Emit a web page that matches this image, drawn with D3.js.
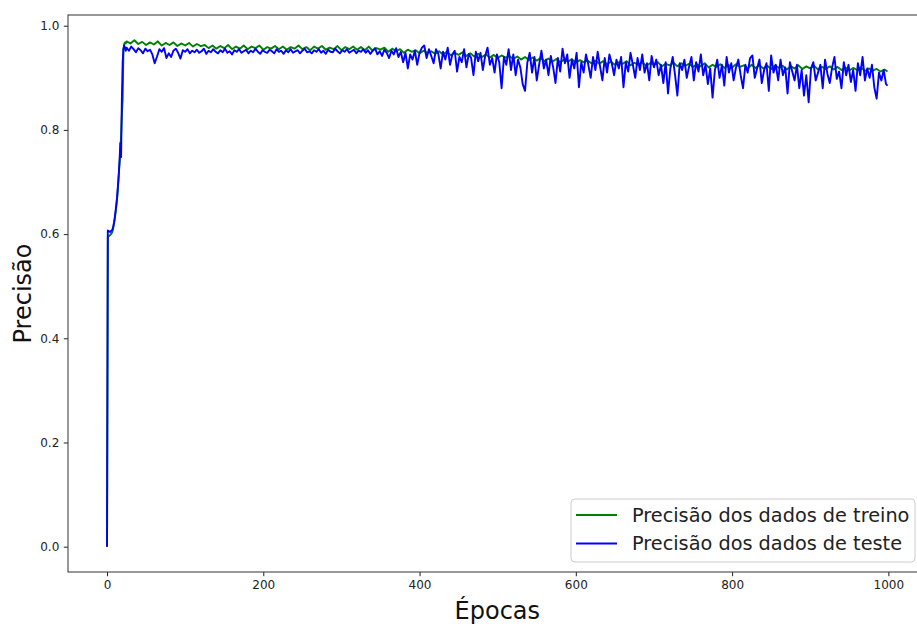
<!DOCTYPE html>
<html>
<head>
<meta charset="utf-8">
<script src="https://cdn.jsdelivr.net/npm/d3@7"></script>
<style>
  body { margin: 0; background: #fff; }
  text { font-family: "DejaVu Sans", sans-serif; }
</style>
</head>
<body>
<script>
// first epochs, one value per epoch
var earlyEpochs = [0,1,2,3,4,5,6,7,8,9,10,11,12,13,14,15,16,17,18,19,20,21,22,23,24];
var earlyTrain = [0,0.594,0.596,0.597,0.598,0.600,0.602,0.605,0.612,0.620,0.630,0.642,0.655,0.670,0.690,0.712,0.735,0.760,0.790,0.830,0.858,0.955,0.965,0.968,0.966];
var earlyTest = [0,0.607,0.606,0.605,0.604,0.606,0.607,0.609,0.615,0.623,0.633,0.645,0.658,0.673,0.693,0.715,0.740,0.775,0.748,0.860,0.930,0.955,0.962,0.958,0.952];

// from epoch 25 on: train read every 5 epochs, test every 3 epochs, then the last epoch
var stepStart = 25, trainStep = 5, testStep = 3, lastEpoch = 999;

var trainAcc = [
  0.970,0.966,0.972,0.965,0.969,0.963,0.968,0.964,0.970,0.962,0.967,0.963,0.968,0.961,0.966,0.962,0.967,0.960,0.965,0.961,
  0.963,0.957,0.962,0.956,0.961,0.957,0.963,0.955,0.960,0.956,0.962,0.955,0.960,0.957,0.962,0.954,0.959,0.956,0.961,0.955,
  0.960,0.954,0.959,0.956,0.962,0.955,0.959,0.953,0.960,0.956,0.961,0.954,0.958,0.955,0.961,0.953,0.959,0.955,0.960,0.954,
  0.959,0.953,0.960,0.952,0.957,0.954,0.958,0.950,0.956,0.951,0.955,0.948,0.954,0.950,0.953,0.947,0.952,0.948,0.951,0.946,
  0.951,0.945,0.950,0.943,0.948,0.944,0.949,0.942,0.947,0.941,0.946,0.940,0.945,0.939,0.944,0.938,0.943,0.939,0.942,0.936,
  0.941,0.935,0.940,0.934,0.939,0.933,0.938,0.932,0.937,0.931,0.936,0.930,0.935,0.931,0.936,0.929,0.934,0.930,0.933,0.928,
  0.933,0.927,0.932,0.926,0.931,0.925,0.930,0.927,0.932,0.924,0.929,0.925,0.930,0.923,0.928,0.925,0.930,0.922,0.927,0.924,
  0.929,0.922,0.928,0.923,0.927,0.921,0.926,0.922,0.928,0.920,0.925,0.921,0.926,0.919,0.925,0.920,0.926,0.921,0.924,0.918,
  0.925,0.919,0.924,0.918,0.923,0.917,0.924,0.919,0.923,0.916,0.922,0.918,0.924,0.917,0.922,0.918,0.923,0.916,0.921,0.917,
  0.922,0.916,0.921,0.915,0.920,0.914,0.919,0.915,0.920,0.913,0.918,0.914,0.917,0.912,0.916,
  0.912
];

var testAcc = [
  0.958,0.952,0.960,0.955,0.949,0.957,0.953,0.947,0.956,0.951,
  0.954,0.945,0.928,0.941,0.955,0.950,0.957,0.938,0.947,0.940,
  0.952,0.956,0.948,0.937,0.953,0.950,0.955,0.947,0.952,0.949,
  0.954,0.948,0.951,0.956,0.946,0.952,0.949,0.955,0.950,0.947,
  0.953,0.949,0.956,0.948,0.951,0.945,0.953,0.950,0.955,0.948,
  0.951,0.954,0.947,0.952,0.949,0.956,0.950,0.946,0.953,0.950,
  0.948,0.954,0.951,0.947,0.955,0.950,0.952,0.946,0.953,0.949,
  0.955,0.948,0.951,0.953,0.947,0.952,0.956,0.949,0.951,0.947,
  0.953,0.950,0.955,0.948,0.952,0.946,0.954,0.950,0.949,0.956,
  0.951,0.947,0.953,0.950,0.955,0.948,0.951,0.954,0.947,0.952,
  0.950,0.955,0.948,0.953,0.946,0.952,0.957,0.945,0.951,0.942,
  0.954,0.948,0.938,0.952,0.945,0.957,0.940,0.950,0.930,0.948,
  0.918,0.945,0.935,0.952,0.925,0.948,0.958,0.962,0.938,0.955,
  0.942,0.928,0.955,0.946,0.918,0.950,0.935,0.958,0.925,0.945,
  0.952,0.912,0.940,0.930,0.955,0.920,0.946,0.938,0.905,0.950,
  0.932,0.948,0.915,0.942,0.958,0.925,0.938,0.910,0.945,0.930,
  0.880,0.940,0.925,0.955,0.915,0.945,0.905,0.935,0.920,0.888,
  0.875,0.930,0.948,0.910,0.940,0.895,0.925,0.952,0.918,0.935,
  0.905,0.942,0.920,0.890,0.938,0.912,0.956,0.928,0.945,0.900,
  0.935,0.918,0.948,0.882,0.930,0.910,0.945,0.925,0.900,0.940,
  0.915,0.950,0.922,0.895,0.938,0.910,0.945,0.928,0.905,0.935,
  0.918,0.940,0.882,0.930,0.912,0.948,0.925,0.900,0.938,0.915,
  0.945,0.910,0.928,0.895,0.942,0.920,0.935,0.905,0.925,0.890,
  0.930,0.870,0.918,0.940,0.905,0.866,0.928,0.915,0.935,0.900,
  0.922,0.940,0.895,0.930,0.912,0.945,0.905,0.925,0.888,0.918,
  0.862,0.915,0.935,0.900,0.925,0.885,0.940,0.910,0.928,0.895,
  0.920,0.935,0.905,0.880,0.925,0.910,0.938,0.943,0.900,0.918,
  0.935,0.890,0.915,0.928,0.875,0.943,0.910,0.925,0.895,0.935,
  0.905,0.920,0.870,0.930,0.912,0.895,0.925,0.880,0.915,0.866,
  0.905,0.853,0.918,0.930,0.895,0.910,0.925,0.880,0.935,0.908,
  0.890,0.920,0.940,0.898,0.912,0.880,0.930,0.905,0.925,0.892,
  0.915,0.875,0.928,0.905,0.940,0.895,0.918,0.900,0.925,0.882,
  0.860,0.910,0.895,0.915,0.888,
  0.885
];

var xTicks = [0, 200, 400, 600, 800, 1000];
var yTicks = [0.0, 0.2, 0.4, 0.6, 0.8, 1.0];
var legendLabels = ["Precisão dos dados de treino", "Precisão dos dados de teste"];
var colors = ["#008000", "#0000ff"];

var width = 917, height = 626;
var plotLeft = 68, plotRight = 926.6, plotTop = 15, plotBottom = 572;

// pair each stepped value with its epoch, the last one is the final epoch
function series(vals, early, step) {
    var pts = earlyEpochs.map(function(e, i) { return [e, early[i]]; });
    return pts.concat(vals.map(function(v, i) {
        return [i < vals.length - 1 ? stepStart + i * step : lastEpoch, v];
    }));
}

var svg = d3.select("body")
    .append("svg")
    .attr("width", width)
    .attr("height", height);

svg.append("rect")
    .attr("width", width)
    .attr("height", height)
    .style("fill", "#fff");

var x = d3.scaleLinear().domain([-49.95, 1048.95]).range([plotLeft, plotRight]);
var y = d3.scaleLinear().domain([-0.0486, 1.0206]).range([plotBottom, plotTop]);

var line = d3.line()
    .x(function(d) { return x(d[0]); })
    .y(function(d) { return y(d[1]); });

// clip so nothing spills past the frame
svg.append("clipPath").attr("id", "plot")
    .append("rect")
    .attr("x", plotLeft).attr("y", plotTop)
    .attr("width", plotRight - plotLeft).attr("height", plotBottom - plotTop);

var plot = svg.append("g").attr("clip-path", "url(#plot)");

[series(trainAcc, earlyTrain, trainStep), series(testAcc, earlyTest, testStep)].forEach(function(s, i) {
    plot.append("path")
        .datum(s)
        .attr("d", line)
        .style("fill", "none")
        .style("stroke", colors[i])
        .style("stroke-width", 1.9)
        .style("stroke-linejoin", "round");
});

// axes
var xAxis = svg.append("g")
    .attr("transform", "translate(0," + plotBottom + ")")
    .call(d3.axisBottom(x).tickValues(xTicks).tickSize(4.2).tickPadding(4.5).tickFormat(d3.format("d")));

var yAxis = svg.append("g")
    .attr("transform", "translate(" + plotLeft + ",0)")
    .call(d3.axisLeft(y).tickValues(yTicks).tickSize(4.2).tickPadding(4.5).tickFormat(d3.format(".1f")));

[xAxis, yAxis].forEach(function(a) {
    a.select(".domain").remove();
    a.attr("font-size", null).attr("font-family", null);
    a.selectAll(".tick line").style("stroke", "#222").style("stroke-width", 1);
    a.selectAll(".tick text")
        .style("font-family", "DejaVu Sans")
        .style("font-size", "12px")
        .style("fill", "#222");
});

// frame
svg.append("rect")
    .attr("x", plotLeft).attr("y", plotTop)
    .attr("width", plotRight - plotLeft).attr("height", plotBottom - plotTop)
    .style("fill", "none")
    .style("stroke", "#333")
    .style("stroke-width", 1);

svg.append("text")
    .attr("x", (plotLeft + plotRight) / 2)
    .attr("y", 619)
    .attr("text-anchor", "middle")
    .style("font-size", "24px")
    .style("fill", "#111")
    .text("Épocas");

svg.append("text")
    .attr("transform", "translate(31," + (plotTop + plotBottom) / 2 + ") rotate(-90)")
    .attr("text-anchor", "middle")
    .style("font-size", "24px")
    .style("fill", "#111")
    .text("Precisão");

// legend
var legend = svg.append("g").attr("transform", "translate(571,499)");

legend.append("rect")
    .attr("width", 344)
    .attr("height", 63)
    .attr("rx", 4)
    .style("fill", "rgba(255,255,255,0.8)")
    .style("stroke", "#ccc")
    .style("stroke-width", 1);

legendLabels.forEach(function(label, i) {
    var row = legend.append("g").attr("transform", "translate(0," + (16 + i * 28.5) + ")");
    row.append("line")
        .attr("x1", 5).attr("x2", 46)
        .style("stroke", colors[i])
        .style("stroke-width", 1.8);
    row.append("text")
        .attr("x", 61)
        .attr("dy", "0.35em")
        .style("font-size", "19.3px")
        .style("fill", "#222")
        .text(label);
});
</script>
</body>
</html>
